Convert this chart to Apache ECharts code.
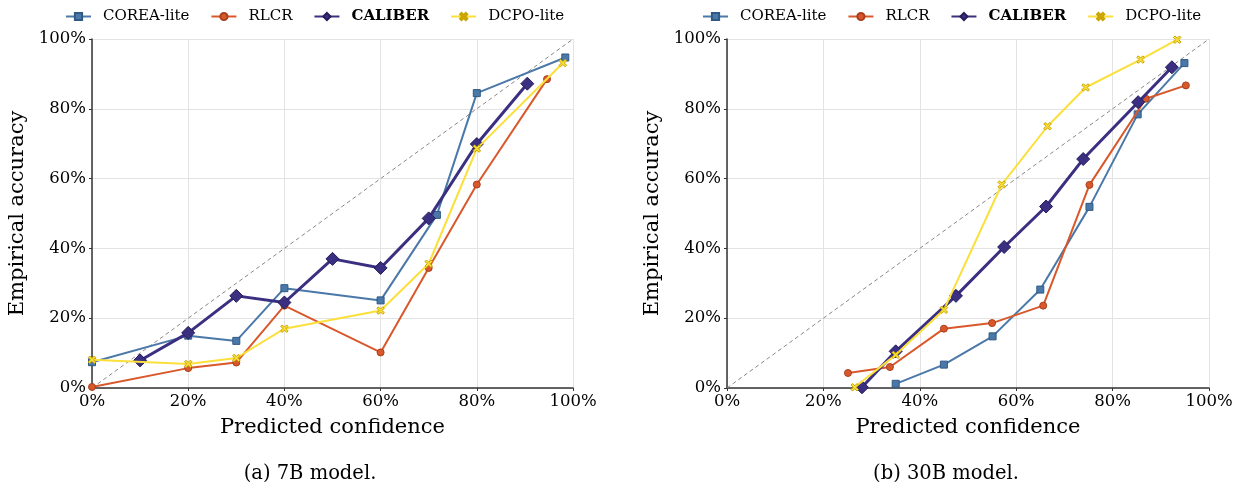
<!DOCTYPE html>
<html><head><meta charset="utf-8">
<script src="https://cdn.jsdelivr.net/npm/echarts@6/dist/echarts.min.js"></script>
<style>html,body{margin:0;padding:0;background:#fff}#c{width:1238px;height:482px}</style>
</head><body><div id="c"></div>
<script>
// ---- Data (percent) ----
const ticks = [0, 20, 40, 60, 80, 100];
// 7B model
const corea7x = [0, 20, 30, 40, 60, 71.7, 80, 98.4];
const corea7y = [7.4, 15.0, 13.5, 28.6, 25.1, 49.6, 84.5, 94.7];
const rlcr7x = [0, 20, 30, 40, 60, 70, 80, 94.6];
const rlcr7y = [0.3, 5.7, 7.3, 23.6, 10.2, 34.4, 58.3, 88.5];
const caliber7x = [10, 20, 30, 40, 50, 60, 70, 80, 90.5];
const caliber7y = [7.9, 15.8, 26.4, 24.5, 37.0, 34.4, 48.6, 69.9, 87.2];
const dcpo7x = [0, 20, 30, 40, 60, 70, 80, 97.9];
const dcpo7y = [8.1, 6.9, 8.6, 17.0, 22.2, 35.6, 68.6, 93.1];
// 30B model
const corea30x = [35, 45, 55.1, 65, 75.2, 85.2, 94.9];
const corea30y = [1.2, 6.7, 14.8, 28.2, 51.9, 78.4, 93.1];
const rlcr30x = [25.1, 33.8, 45, 55, 65.6, 75.2, 86.9, 95.2];
const rlcr30y = [4.3, 6.0, 17.0, 18.6, 23.6, 58.2, 82.9, 86.7];
const caliber30x = [28, 35, 47.5, 57.5, 66.2, 73.9, 85.3, 92.3];
const caliber30y = [0.2, 10.5, 26.4, 40.4, 52.0, 65.6, 81.9, 91.9];
const dcpo30x = [26.5, 35, 45, 57, 66.5, 74.4, 85.8, 93.4];
const dcpo30y = [0.2, 9.5, 22.4, 58.3, 75.0, 86.1, 94.1, 99.8];

const names = ['COREA-lite', 'RLCR', 'CALIBER', 'DCPO-lite'];
const captions = ['(a) 7B model.', '(b) 30B model.'];

const F = 'DejaVu Serif';
const colors = {
  'COREA-lite': {c: '#4a78a8', e: '#2f5a85'},
  'RLCR': {c: '#d9582b', e: '#a8401c'},
  'CALIBER': {c: '#3a2f80', e: '#251c5c'},
  'DCPO-lite': {c: '#fbdf3a', e: '#c9a400'}
};
const XSYM = 'path://M0,2 L2,0 L5,3 L8,0 L10,2 L7,5 L10,8 L8,10 L5,7 L2,10 L0,8 L3,5 Z';
const sym = {'COREA-lite': ['rect', 7], 'RLCR': ['circle', 7], 'CALIBER': ['diamond', 13], 'DCPO-lite': [XSYM, 7.5]};
const lw = {'COREA-lite': 2, 'RLCR': 2, 'CALIBER': 3, 'DCPO-lite': 2};

const zip = (xs, ys) => xs.map((x, i) => [x, ys[i]]);
const sets = [
  [zip(corea7x, corea7y), zip(rlcr7x, rlcr7y), zip(caliber7x, caliber7y), zip(dcpo7x, dcpo7y)],
  [zip(corea30x, corea30y), zip(rlcr30x, rlcr30y), zip(caliber30x, caliber30y), zip(dcpo30x, dcpo30y)]
];

const grids = [
  {left: 92, right: 665, top: 39, bottom: 94},
  {left: 727, right: 29, top: 39, bottom: 94}
];

const xAxis = [], yAxis = [], series = [], title = [];
grids.forEach((g, gi) => {
  xAxis.push({
    type: 'value', gridIndex: gi, min: 0, max: 100, interval: 20,
    name: 'Predicted confidence', nameLocation: 'middle', nameGap: 29,
    nameTextStyle: {fontFamily: F, fontSize: 21, color: '#000'},
    axisLine: {show: true, lineStyle: {color: '#333', width: 1.5}},
    axisTick: {show: true, length: 3, lineStyle: {color: '#333'}},
    axisLabel: {fontFamily: F, fontSize: 16.5, color: '#000', margin: 5, formatter: v => v + '%'},
    splitLine: {show: true, lineStyle: {color: '#e3e3e3', width: 1}}
  });
  yAxis.push({
    type: 'value', gridIndex: gi, min: 0, max: 100, interval: 20,
    name: 'Empirical accuracy', nameLocation: 'middle', nameGap: 64,
    nameTextStyle: {fontFamily: F, fontSize: 21, color: '#000'},
    axisLine: {show: true, lineStyle: {color: '#333', width: 1.5}},
    axisTick: {show: true, length: 3, lineStyle: {color: '#333'}},
    axisLabel: {fontFamily: F, fontSize: 16.5, color: '#000', margin: 6, formatter: v => v + '%'},
    splitLine: {show: true, lineStyle: {color: '#e3e3e3', width: 1}}
  });
  series.push({
    type: 'line', xAxisIndex: gi, yAxisIndex: gi, data: [[0, 0], [100, 100]],
    symbol: 'none', silent: true, z: 1,
    lineStyle: {color: '#888', width: 1, type: [4, 3]}
  });
  names.forEach((n, si) => {
    series.push({
      name: n, type: 'line', xAxisIndex: gi, yAxisIndex: gi,
      data: sets[gi][si], symbol: sym[n][0], symbolSize: sym[n][1],
      showAllSymbol: true, clip: false, z: 2 + si,
      lineStyle: {color: colors[n].c, width: lw[n]},
      itemStyle: {color: colors[n].c, borderColor: colors[n].e, borderWidth: 1}
    });
  });
  title.push({
    text: captions[gi], left: gi === 0 ? 305 : 941, top: 459, textAlign: 'center',
    textStyle: {fontFamily: F, fontSize: 19.5, fontWeight: 'normal', color: '#000'}
  });
});

const legendBase = {
  data: names, top: 9, padding: 0, itemWidth: 25, itemHeight: 9, itemGap: 21,
  textStyle: {fontFamily: F, fontSize: 15, color: '#000',
    rich: {
      n: {fontFamily: F, fontSize: 15, color: '#000', padding: [0, 0, 0, 7]},
      b: {fontFamily: F, fontSize: 15, fontWeight: 'bold', color: '#000', padding: [0, 0, 0, 7]}
    }},
  formatter: n => n === 'CALIBER' ? '{b|' + n + '}' : '{n|' + n + '}'
};

const chart = echarts.init(document.getElementById('c'), null, {renderer: 'canvas'});
chart.setOption({
  animation: false, backgroundColor: '#fff',
  title, grid: grids, xAxis, yAxis, series,
  legend: [
    Object.assign({}, legendBase, {left: 65}),
    Object.assign({}, legendBase, {left: 702})
  ]
});
</script></body></html>
